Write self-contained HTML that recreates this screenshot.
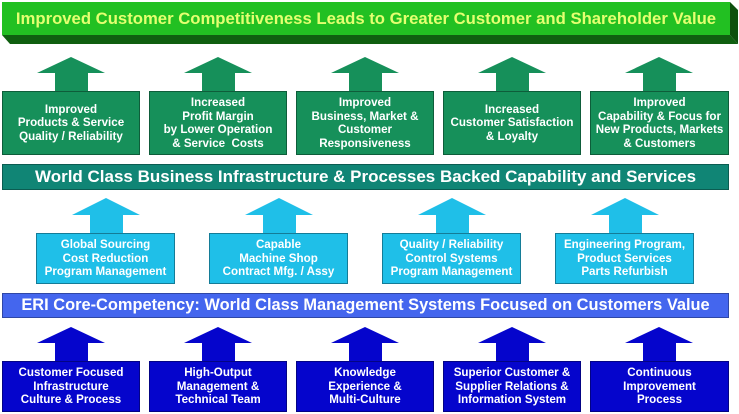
<!DOCTYPE html>
<html><head><style>
body{margin:0;width:739px;height:414px;background:#fff;position:relative;overflow:hidden;font-family:"Liberation Sans",Arial,sans-serif;font-weight:bold}
.b{position:absolute;display:flex;align-items:center;justify-content:center;text-align:center;color:#fff;font-size:11.6px;line-height:13.5px;box-sizing:border-box;border:1px solid rgba(0,0,0,.35);white-space:nowrap}
.g{background:#16905a}
.c{background:#1fbfe8}
.d{background:#0505cc}
.bar{position:absolute;left:2px;width:727px;color:#fff;text-align:center;box-sizing:border-box;border:1px solid rgba(0,0,0,.3);white-space:nowrap}
svg{position:absolute;left:0;top:0}
</style></head><body>
<svg width="739" height="414">
<polygon points="2,35 730,35 738,44 10,44" fill="#0f5f10"/>
<polygon points="730,2 738,10 738,44 730,35" fill="#0d500d"/>
<rect x="2" y="2" width="728" height="33" fill="#22c022"/>
<g fill="#16905a">
<polygon points="71,57 105,73 88,73 88,92 55,92 55,73 37,73"/>
<polygon points="218,57 252,73 235,73 235,92 202,92 202,73 184,73"/>
<polygon points="365,57 399,73 382,73 382,92 349,92 349,73 331,73"/>
<polygon points="512,57 546,73 529,73 529,92 496,92 496,73 478,73"/>
<polygon points="659,57 693,73 676,73 676,92 643,92 643,73 625,73"/>
</g>
<g fill="#1fbfe8">
<polygon points="106,198 140,215 123,215 123,234 90,234 90,215 72,215"/>
<polygon points="279,198 313,215 296,215 296,234 263,234 263,215 245,215"/>
<polygon points="452,198 486,215 469,215 469,234 436,234 436,215 418,215"/>
<polygon points="625,198 659,215 642,215 642,234 609,234 609,215 591,215"/>
</g>
<g fill="#0505cc">
<polygon points="71,327 105,343 88,343 88,362 55,362 55,343 37,343"/>
<polygon points="218,327 252,343 235,343 235,362 202,362 202,343 184,343"/>
<polygon points="365,327 399,343 382,343 382,362 349,362 349,343 331,343"/>
<polygon points="512,327 546,343 529,343 529,362 496,362 496,343 478,343"/>
<polygon points="659,327 693,343 676,343 676,362 643,362 643,343 625,343"/>
</g>
</svg>
<div style="position:absolute;left:2px;top:2px;width:728px;height:33px;line-height:33px;text-align:center;color:#e4ff70;font-size:16.7px;white-space:nowrap">Improved Customer Competitiveness Leads to Greater Customer and Shareholder Value</div>

<div class="b g" style="left:2px;top:91px;width:138px;height:64px">Improved<br>Products &amp; Service<br>Quality / Reliability</div>
<div class="b g" style="left:149px;top:91px;width:138px;height:64px">Increased<br>Profit Margin<br>by Lower Operation<br>&amp; Service&nbsp; Costs</div>
<div class="b g" style="left:296px;top:91px;width:138px;height:64px">Improved<br>Business, Market &amp;<br>Customer<br>Responsiveness</div>
<div class="b g" style="left:443px;top:91px;width:138px;height:64px">Increased<br>Customer Satisfaction<br>&amp; Loyalty</div>
<div class="b g" style="left:590px;top:91px;width:139px;height:64px">Improved<br>Capability &amp; Focus for<br>New Products, Markets<br>&amp; Customers</div>

<div class="bar" style="top:164px;height:26px;line-height:24px;background:#108575;font-size:17px">World Class Business Infrastructure &amp; Processes Backed Capability and Services</div>

<div class="b c" style="left:36px;top:233px;width:139px;height:51px">Global Sourcing<br>Cost Reduction<br>Program Management</div>
<div class="b c" style="left:209px;top:233px;width:139px;height:51px">Capable<br>Machine Shop<br>Contract Mfg. / Assy</div>
<div class="b c" style="left:382px;top:233px;width:139px;height:51px">Quality / Reliability<br>Control Systems<br>Program Management</div>
<div class="b c" style="left:555px;top:233px;width:139px;height:51px">Engineering Program,<br>Product Services<br>Parts Refurbish</div>

<div class="bar" style="top:293px;height:25px;line-height:23px;background:#4466ee;font-size:16.4px">ERI Core-Competency: World Class Management Systems Focused on Customers Value</div>

<div class="b d" style="left:2px;top:361px;width:138px;height:51px">Customer Focused<br>Infrastructure<br>Culture &amp; Process</div>
<div class="b d" style="left:149px;top:361px;width:138px;height:51px">High-Output<br>Management &amp;<br>Technical Team</div>
<div class="b d" style="left:296px;top:361px;width:138px;height:51px">Knowledge<br>Experience &amp;<br>Multi-Culture</div>
<div class="b d" style="left:443px;top:361px;width:138px;height:51px">Superior Customer &amp;<br>Supplier Relations &amp;<br>Information System</div>
<div class="b d" style="left:590px;top:361px;width:139px;height:51px">Continuous<br>Improvement<br>Process</div>
</body></html>
